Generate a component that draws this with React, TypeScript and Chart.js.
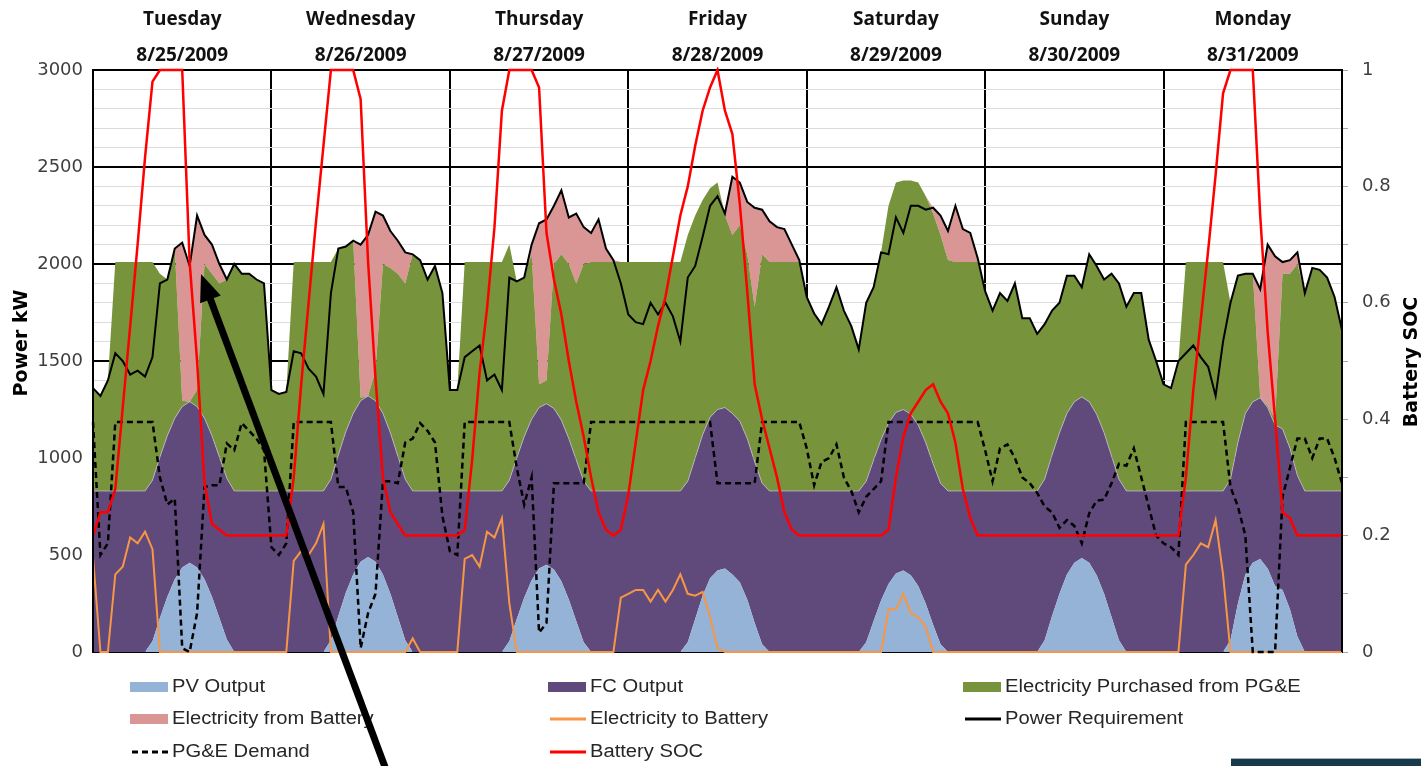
import React, { useEffect, useRef } from 'react';
import { Chart, registerables } from 'chart.js';

Chart.register(...registerables);

// ---- time axis (hours since Tue 8/25/2009 00:00) ----
const HOURS = [
  0, 1, 2, 3, 4, 5, 6, 7, 8, 9, 10, 11, 12, 13, 14, 15, 16, 17, 18, 19, 20, 21, 22, 23,
  24, 25, 26, 27, 28, 29, 30, 31, 32, 33, 34, 35, 36, 37, 38, 39, 40, 41, 42, 43, 44, 45, 46, 47,
  48, 49, 50, 51, 52, 53, 54, 55, 56, 57, 58, 59, 60, 61, 62, 63, 64, 65, 66, 67, 68, 69, 70, 71,
  72, 73, 74, 75, 76, 77, 78, 79, 80, 81, 82, 83, 84, 85, 86, 87, 88, 89, 90, 91, 92, 93, 94, 95,
  96, 97, 98, 99, 100, 101, 102, 103, 104, 105, 106, 107, 108, 109, 110, 111, 112, 113, 114, 115, 116, 117, 118, 119,
  120, 121, 122, 123, 124, 125, 126, 127, 128, 129, 130, 131, 132, 133, 134, 135, 136, 137, 138, 139, 140, 141, 142, 143,
  144, 145, 146, 147, 148, 149, 150, 151, 152, 153, 154, 155, 156, 157, 158, 159, 160, 161, 162, 163, 164, 165, 166, 167,
  168,
];

const DAY_BOUNDARY_STEP = 24;
const DAY_CENTERS = [12, 36, 60, 84, 108, 132, 156];
const DAY_NAMES = ['Tuesday', 'Wednesday', 'Thursday', 'Friday', 'Saturday', 'Sunday', 'Monday'];
const DAY_DATES = ['8/25/2009', '8/26/2009', '8/27/2009', '8/28/2009', '8/29/2009', '8/30/2009', '8/31/2009'];

// ---- series (kW) ----
const PV_OUTPUT = [
  0, 0, 0, 0, 0, 0, 0, 0, 55, 175, 285, 375, 435, 460, 435, 375, 285, 175, 65, 0, 0, 0, 0, 0,
  0, 0, 0, 0, 0, 0, 0, 0, 60, 185, 305, 400, 465, 490, 465, 400, 300, 180, 60, 0, 0, 0, 0, 0,
  0, 0, 0, 0, 0, 0, 0, 0, 55, 170, 280, 370, 430, 450, 425, 365, 270, 160, 50, 0, 0, 0, 0, 0,
  0, 0, 0, 0, 0, 0, 0, 0, 50, 170, 290, 380, 420, 430, 400, 360, 270, 150, 40, 0, 0, 0, 0, 0,
  0, 0, 0, 0, 0, 0, 0, 0, 50, 160, 265, 350, 405, 420, 395, 340, 250, 140, 40, 0, 0, 0, 0, 0,
  0, 0, 0, 0, 0, 0, 0, 0, 60, 185, 300, 400, 460, 485, 460, 395, 300, 180, 60, 0, 0, 0, 0, 0,
  0, 0, 0, 0, 0, 0, 0, 0, 0, 60, 250, 400, 460, 480, 430, 340, 320, 220, 80, 0, 0, 0, 0, 0,
  0,
];

const FC_OUTPUT = [
  830, 830, 830, 830, 830, 830, 830, 830, 830, 830, 830, 830, 830, 830, 830, 830, 830, 830, 830, 830, 830, 830, 830, 830,
  830, 830, 830, 830, 830, 830, 830, 830, 830, 830, 830, 830, 830, 830, 830, 830, 830, 830, 830, 830, 830, 830, 830, 830,
  830, 830, 830, 830, 830, 830, 830, 830, 830, 830, 830, 830, 830, 830, 830, 830, 830, 830, 830, 830, 830, 830, 830, 830,
  830, 830, 830, 830, 830, 830, 830, 830, 830, 830, 830, 830, 830, 830, 830, 830, 830, 830, 830, 830, 830, 830, 830, 830,
  830, 830, 830, 830, 830, 830, 830, 830, 830, 830, 830, 830, 830, 830, 830, 830, 830, 830, 830, 830, 830, 830, 830, 830,
  830, 830, 830, 830, 830, 830, 830, 830, 830, 830, 830, 830, 830, 830, 830, 830, 830, 830, 830, 830, 830, 830, 830, 830,
  830, 830, 830, 830, 830, 830, 830, 830, 830, 830, 830, 830, 830, 830, 830, 830, 830, 830, 830, 830, 830, 830, 830, 830,
  830,
];

const GRID_PURCHASE = [
  530, 490, 570, 1180, 1180, 1180, 1180, 1180, 1125, 945, 805, 875, 30, 0, 85, 795, 835, 895, 1025, 1170, 1120, 1120, 1090, 1070,
  520, 500, 510, 1180, 1180, 1180, 1180, 1180, 1120, 1065, 955, 890, 15, 0, 155, 770, 850, 940, 1010, 1220, 1190, 1090, 1160, 1020,
  520, 520, 1180, 1180, 1180, 1180, 1180, 1180, 1215, 910, 820, 850, 120, 120, 745, 855, 900, 910, 1120, 1180, 1180, 1180, 1180, 1180,
  1180, 1180, 1180, 1180, 1180, 1180, 1180, 1180, 1270, 1250, 1210, 1180, 1170, 990, 920, 1010, 950, 800, 1180, 1180, 1180, 1180, 1180, 1180,
  1000, 915, 860, 950, 1050, 930, 850, 730, 920, 890, 965, 1120, 1185, 1180, 1205, 1250, 1270, 1290, 1280, 1190, 1180, 1180, 1180, 1180,
  1030, 930, 1020, 980, 1070, 890, 890, 810, 800, 745, 670, 710, 650, 565, 760, 765, 790, 940, 1010, 950, 1020, 1020, 780, 670,
  550, 530, 670, 1180, 1180, 1180, 1180, 1180, 1180, 910, 860, 720, 660, 0, 10, 30, 800, 900, 1090, 1020, 1150, 1140, 1100, 1000,
  830,
];

const FROM_BATTERY = [
  0, 0, 0, 0, 0, 0, 0, 0, 0, 0, 0, 0, 815, 700, 900, 150, 150, 100, 0, 0, 0, 0, 0, 0,
  0, 0, 0, 0, 0, 0, 0, 0, 0, 0, 0, 0, 790, 830, 820, 250, 190, 170, 160, 0, 0, 0, 0, 0,
  0, 0, 0, 0, 0, 0, 0, 0, 0, 0, 0, 50, 830, 830, 300, 330, 240, 360, 190, 150, 220, 70, 10, 0,
  0, 0, 0, 0, 0, 0, 0, 0, 0, 0, 0, 0, 0, 10, 300, 220, 270, 510, 230, 210, 180, 170, 90, 10,
  0, 0, 0, 0, 0, 0, 0, 0, 0, 0, 0, 0, 0, 0, 0, 0, 0, 30, 100, 150, 290, 170, 150, 20,
  0, 0, 0, 0, 0, 0, 0, 0, 0, 0, 0, 0, 0, 0, 0, 0, 0, 0, 0, 0, 0, 0, 0, 0,
  0, 0, 0, 0, 0, 0, 0, 0, 0, 0, 0, 0, 0, 560, 830, 840, 60, 70, 60, 0, 0, 0, 0, 0,
  0,
];

const TO_BATTERY = [
  490, 0, 0, 400, 440, 590, 560, 620, 530, 0, 0, 0, 0, 0, 0, 0, 0, 0, 0, 0, 0, 0, 0, 0,
  0, 0, 0, 470, 520, 500, 560, 660, 0, 0, 0, 0, 0, 0, 0, 0, 0, 0, 0, 70, 0, 0, 0, 0,
  0, 0, 480, 500, 440, 620, 590, 690, 250, 0, 0, 0, 0, 0, 0, 0, 0, 0, 0, 0, 0, 0, 0, 280,
  300, 320, 320, 260, 320, 260, 320, 400, 300, 290, 310, 180, 20, 0, 0, 0, 0, 0, 0, 0, 0, 0, 0, 0,
  0, 0, 0, 0, 0, 0, 0, 0, 0, 0, 0, 220, 220, 300, 200, 180, 130, 0, 0, 0, 0, 0, 0, 0,
  0, 0, 0, 0, 0, 0, 0, 0, 0, 0, 0, 0, 0, 0, 0, 0, 0, 0, 0, 0, 0, 0, 0, 0,
  0, 0, 0, 450, 500, 560, 540, 680, 400, 0, 0, 0, 0, 0, 0, 0, 0, 0, 0, 0, 0, 0, 0, 0,
  0,
];

const POWER_REQUIREMENT = [
  1360, 1320, 1400, 1540, 1500, 1430, 1450, 1420, 1520, 1900, 1920, 2080, 2110, 1990, 2250, 2150, 2100, 2000, 1920, 2000, 1950, 1950, 1920, 1900,
  1350, 1330, 1340, 1550, 1540, 1460, 1420, 1330, 1850, 2080, 2090, 2120, 2100, 2150, 2270, 2250, 2170, 2120, 2060, 2050, 2020, 1920, 1990, 1850,
  1350, 1350, 1520, 1550, 1580, 1400, 1430, 1350, 1930, 1910, 1930, 2100, 2210, 2230, 2300, 2380, 2240, 2260, 2190, 2160, 2230, 2080, 2020, 1900,
  1740, 1700, 1690, 1800, 1740, 1800, 1730, 1600, 1930, 1990, 2140, 2300, 2350, 2260, 2450, 2420, 2320, 2290, 2280, 2220, 2190, 2180, 2100, 2020,
  1830, 1745, 1690, 1780, 1880, 1760, 1680, 1560, 1800, 1880, 2060, 2050, 2240, 2160, 2300, 2300, 2280, 2290, 2250, 2170, 2300, 2180, 2160, 2030,
  1860, 1760, 1850, 1810, 1900, 1720, 1720, 1640, 1690, 1760, 1800, 1940, 1940, 1880, 2050, 1990, 1920, 1950, 1900, 1780, 1850, 1850, 1610, 1500,
  1380, 1360, 1500, 1540, 1580, 1520, 1470, 1320, 1600, 1800, 1940, 1950, 1950, 1870, 2100, 2040, 2010, 2020, 2060, 1850, 1980, 1970, 1930, 1830,
  1660,
];

const PGE_DEMAND = [
  1185, 500, 560, 1185, 1185, 1185, 1185, 1185, 1185, 900, 760, 790, 20, 0, 200, 850, 860, 860, 1075, 1040, 1180, 1140, 1100, 1040,
  540, 500, 560, 1185, 1185, 1185, 1185, 1185, 1185, 850, 850, 720, 20, 200, 300, 880, 880, 870, 1080, 1100, 1180, 1140, 1080, 700,
  520, 500, 1185, 1185, 1185, 1185, 1185, 1185, 1185, 950, 760, 900, 100, 150, 870, 870, 870, 870, 870, 1185, 1185, 1185, 1185, 1185,
  1185, 1185, 1185, 1185, 1185, 1185, 1185, 1185, 1185, 1185, 1185, 1185, 870, 870, 870, 870, 870, 870, 1185, 1185, 1185, 1185, 1185, 1185,
  1050, 860, 980, 1000, 1070, 900, 830, 720, 800, 840, 880, 1185, 1185, 1185, 1185, 1185, 1185, 1185, 1185, 1185, 1185, 1185, 1185, 1185,
  1040, 880, 1050, 1070, 1000, 900, 870, 820, 750, 720, 640, 680, 650, 560, 715, 780, 785, 870, 970, 960, 1050, 900, 750, 600,
  560, 540, 500, 1185, 1185, 1185, 1185, 1185, 1185, 850, 750, 600, 0, 0, 0, 0, 800, 950, 1100, 1100, 1000, 1100, 1100, 1000,
  870,
];

// ---- battery state of charge (0..1) ----
const BATTERY_SOC = [
  0.2, 0.24, 0.24, 0.28, 0.42, 0.56, 0.7, 0.85, 0.98, 1, 1, 1, 1, 0.67, 0.5, 0.29, 0.22, 0.21, 0.2, 0.2, 0.2, 0.2, 0.2, 0.2,
  0.2, 0.2, 0.2, 0.3, 0.46, 0.6, 0.74, 0.87, 1, 1, 1, 1, 0.95, 0.67, 0.47, 0.3, 0.24, 0.22, 0.2, 0.2, 0.2, 0.2, 0.2, 0.2,
  0.2, 0.2, 0.21, 0.33, 0.48, 0.59, 0.73, 0.93, 1, 1, 1, 1, 0.97, 0.72, 0.64, 0.58, 0.5, 0.43, 0.37, 0.3, 0.24, 0.21, 0.2, 0.21,
  0.27, 0.36, 0.45, 0.5, 0.56, 0.61, 0.68, 0.75, 0.8, 0.87, 0.93, 0.97, 1, 0.93, 0.89, 0.77, 0.62, 0.46, 0.4, 0.35, 0.3, 0.24, 0.21, 0.2,
  0.2, 0.2, 0.2, 0.2, 0.2, 0.2, 0.2, 0.2, 0.2, 0.2, 0.2, 0.21, 0.3, 0.37, 0.41, 0.43, 0.45, 0.46, 0.43, 0.41, 0.36, 0.28, 0.23, 0.2,
  0.2, 0.2, 0.2, 0.2, 0.2, 0.2, 0.2, 0.2, 0.2, 0.2, 0.2, 0.2, 0.2, 0.2, 0.2, 0.2, 0.2, 0.2, 0.2, 0.2, 0.2, 0.2, 0.2, 0.2,
  0.2, 0.2, 0.2, 0.3, 0.45, 0.57, 0.69, 0.82, 0.96, 1, 1, 1, 1, 0.75, 0.55, 0.4, 0.24, 0.23, 0.2, 0.2, 0.2, 0.2, 0.2, 0.2,
  0.2,
];

const POWER_MAX = 3000;
const POWER_STEP = 100;
const POWER_LABEL_STEP = 500;
const SOC_STEP = 0.1;

const LEFT_TITLE = 'Power kW';
const RIGHT_TITLE = 'Battery SOC';

// ---- styling ----
const W = 1421;
const H = 766;
const C_PV = '#95b3d7';
const C_FC = '#604a7b';
const C_GRID = '#77933c';
const C_BAT = '#d99694';
const C_TOBAT = '#f79646';
const C_REQ = '#000000';
const C_DEM = '#000000';
const C_SOC = '#ff0000';

const LEGEND_ROWS = [[0, 1, 2], [3, 4, 6], [5, 7]];
const LEGEND_COL_X = [130, 548, 963];
const LEGEND_ROW_Y = [687, 719, 752];

const overlayPlugin = {
  id: 'overlayPlugin',
  afterDatasetsDraw(chart: any) {
    const { ctx, chartArea: a } = chart;
    ctx.save();
    ctx.strokeStyle = '#000';
    ctx.lineWidth = 2;
    ctx.beginPath();
    ctx.moveTo(a.left, a.top);
    ctx.lineTo(a.left, a.bottom);
    ctx.moveTo(a.right, a.top);
    ctx.lineTo(a.right, a.bottom);
    ctx.stroke();
    ctx.restore();
  },
  afterDraw(chart: any) {
    const { ctx } = chart;
    // axis titles (both read bottom-to-top)
    ctx.save();
    ctx.fillStyle = '#000';
    ctx.font = 'bold 19px "DejaVu Sans"';
    ctx.textAlign = 'center';
    ctx.textBaseline = 'middle';
    ctx.translate(22, 343);
    ctx.rotate(-Math.PI / 2);
    ctx.fillText(LEFT_TITLE, 0, 0);
    ctx.restore();

    ctx.save();
    ctx.fillStyle = '#000';
    ctx.font = 'bold 19px "DejaVu Sans"';
    ctx.textAlign = 'center';
    ctx.textBaseline = 'middle';
    ctx.translate(1412, 362);
    ctx.rotate(-Math.PI / 2);
    ctx.fillText(RIGHT_TITLE, 0, 0);
    ctx.restore();

    // legend
    const ds = chart.data.datasets;
    LEGEND_ROWS.forEach((row: number[], r: number) => {
      row.forEach((idx: number, c: number) => {
        const d = ds[idx];
        const x = LEGEND_COL_X[c];
        const y = LEGEND_ROW_Y[r];
        ctx.save();
        if (d.fill) {
          ctx.fillStyle = d.backgroundColor;
          ctx.fillRect(x, y - 5, 38, 10);
        } else {
          ctx.strokeStyle = d.borderColor;
          ctx.lineWidth = 3;
          ctx.setLineDash(d.borderDash ? [6, 4] : []);
          ctx.beginPath();
          ctx.moveTo(x + 2, y);
          ctx.lineTo(x + 38, y);
          ctx.stroke();
        }
        ctx.restore();
        ctx.save();
        ctx.fillStyle = '#262626';
        ctx.font = '18px "Liberation Sans"';
        ctx.textAlign = 'left';
        ctx.textBaseline = 'middle';
        ctx.translate(x + 42, y);
        ctx.scale(1.12, 1);
        ctx.fillText(d.label, 0, 0);
        ctx.restore();
      });
    });

    // annotation arrow
    const tip = { x: 201, y: 274 };
    const tail = { x: 388, y: 775 };
    const dx = tail.x - tip.x;
    const dy = tail.y - tip.y;
    const len = Math.sqrt(dx * dx + dy * dy);
    const ux = dx / len;
    const uy = dy / len;
    const headLen = 27;
    const headHalf = 11;
    const bx = tip.x + ux * headLen;
    const by = tip.y + uy * headLen;
    ctx.save();
    ctx.strokeStyle = '#000';
    ctx.lineWidth = 7;
    ctx.beginPath();
    ctx.moveTo(bx - ux * 2, by - uy * 2);
    ctx.lineTo(tail.x, tail.y);
    ctx.stroke();
    ctx.fillStyle = '#000';
    ctx.beginPath();
    ctx.moveTo(tip.x, tip.y);
    ctx.lineTo(bx - uy * headHalf, by + ux * headHalf);
    ctx.lineTo(bx + uy * headHalf, by - ux * headHalf);
    ctx.closePath();
    ctx.fill();
    ctx.restore();

    // dark box at bottom right
    ctx.save();
    ctx.fillStyle = '#173a4b';
    ctx.fillRect(1231, 758, W - 1231, H - 758);
    ctx.fillStyle = '#9fb3bd';
    ctx.fillRect(1231, 758, W - 1231, 1);
    ctx.restore();
  },
};

export default function App() {
  const canvasRef = useRef<HTMLCanvasElement | null>(null);

  useEffect(() => {
    const canvas = canvasRef.current;
    if (!canvas) return;
    const chart = new Chart(canvas, {
      type: 'line',
      data: {
        labels: HOURS,
        datasets: [
          {
            label: 'PV Output', data: PV_OUTPUT, yAxisID: 'y', stack: 'power', fill: 'origin',
            backgroundColor: C_PV, borderColor: 'transparent', borderWidth: 0, order: 4,
          },
          {
            label: 'FC Output', data: FC_OUTPUT, yAxisID: 'y', stack: 'power', fill: '-1',
            backgroundColor: C_FC, borderColor: 'rgba(215,210,225,0.6)', borderWidth: 1, order: 5,
          },
          {
            label: 'Electricity Purchased from PG&E', data: GRID_PURCHASE, yAxisID: 'y', stack: 'power', fill: '-1',
            backgroundColor: C_GRID, borderColor: 'transparent', borderWidth: 0, order: 6,
          },
          {
            label: 'Electricity from Battery', data: FROM_BATTERY, yAxisID: 'y', stack: 'power', fill: '-1',
            backgroundColor: C_BAT, borderColor: 'transparent', borderWidth: 0, order: 7,
          },
          {
            label: 'Electricity to Battery', data: TO_BATTERY, yAxisID: 'y', stack: 'toBattery', fill: false,
            borderColor: C_TOBAT, backgroundColor: C_TOBAT, borderWidth: 2, order: 3, clip: 4,
          },
          {
            label: 'PG&E Demand', data: PGE_DEMAND, yAxisID: 'y', stack: 'demand', fill: false,
            borderColor: C_DEM, backgroundColor: C_DEM, borderWidth: 2.5, borderDash: [6, 4], order: 2, clip: 3,
          },
          {
            label: 'Power Requirement', data: POWER_REQUIREMENT, yAxisID: 'y', stack: 'requirement', fill: false,
            borderColor: C_REQ, backgroundColor: C_REQ, borderWidth: 2, order: 1,
          },
          {
            label: 'Battery SOC', data: BATTERY_SOC, yAxisID: 'y1', fill: false,
            borderColor: C_SOC, backgroundColor: C_SOC, borderWidth: 2.5, order: 0, clip: 3,
          },
        ],
      },
      options: {
        responsive: false,
        animation: false,
        devicePixelRatio: 1,
        layout: { padding: 0 },
        elements: { point: { radius: 0, hoverRadius: 0 }, line: { tension: 0 } },
        plugins: {
          legend: { display: false },
          tooltip: { enabled: false },
          title: { display: false },
        },
        scales: {
          x: {
            type: 'linear',
            position: 'bottom',
            min: 0,
            max: HOURS[HOURS.length - 1],
            ticks: { stepSize: DAY_BOUNDARY_STEP, display: false },
            grid: { color: '#000', lineWidth: 2, drawTicks: false },
            border: { color: '#000', width: 2 },
            afterFit: (s: any) => { s.height = 114; },
          },
          x2: {
            type: 'linear',
            position: 'top',
            min: 0,
            max: HOURS[HOURS.length - 1],
            grid: { display: false, drawTicks: false },
            border: { display: true, color: '#000', width: 2 },
            afterBuildTicks: (s: any) => { s.ticks = DAY_CENTERS.map((v) => ({ value: v })); },
            ticks: {
              autoSkip: false,
              maxRotation: 0,
              minRotation: 0,
              padding: -4,
              color: '#111',
              font: { family: '"Open Sans"', size: 19, weight: 'bold', lineHeight: '36px' },
              callback: (_v: any, i: number) => [DAY_NAMES[i], DAY_DATES[i]],
            },
            afterFit: (s: any) => { s.height = 70; },
          },
          y: {
            type: 'linear',
            position: 'left',
            stacked: true,
            min: 0,
            max: POWER_MAX,
            ticks: {
              stepSize: POWER_STEP,
              autoSkip: false,
              padding: 10,
              color: '#3f3f3f',
              font: { family: '"DejaVu Sans"', size: 18 },
              callback: (v: any) => (Number(v) % POWER_LABEL_STEP === 0 ? String(v) : ''),
            },
            grid: {
              drawTicks: false,
              color: (c: any) => (c.tick && c.tick.value % POWER_LABEL_STEP === 0 ? '#000' : '#dcdcdc'),
              lineWidth: (c: any) => (c.tick && c.tick.value % POWER_LABEL_STEP === 0 ? 2 : 1),
            },
            border: { color: '#000', width: 2 },
            title: { display: false },
            afterFit: (s: any) => { s.width = 93; },
          },
          y1: {
            type: 'linear',
            position: 'right',
            min: 0,
            max: 1,
            ticks: {
              stepSize: SOC_STEP,
              autoSkip: false,
              padding: 14,
              color: '#3f3f3f',
              font: { family: '"DejaVu Sans"', size: 18 },
              callback: (v: any) => {
                const r = Math.round(Number(v) * 10);
                if (r % 2 !== 0) return '';
                return r === 0 ? '0' : r === 10 ? '1' : String(r / 10);
              },
            },
            grid: { drawOnChartArea: false, drawTicks: true, tickLength: 6, color: '#a6a6a6' },
            border: { color: '#000', width: 2 },
            afterFit: (s: any) => { s.width = 79; },
          },
        },
      },
      plugins: [overlayPlugin],
    } as any);
    return () => chart.destroy();
  }, []);

  return (
    <div style={{ position: 'fixed', left: 0, top: 0, width: W, height: H, background: '#fff' }}>
      <canvas ref={canvasRef} width={W} height={H} style={{ display: 'block' }} />
    </div>
  );
}
